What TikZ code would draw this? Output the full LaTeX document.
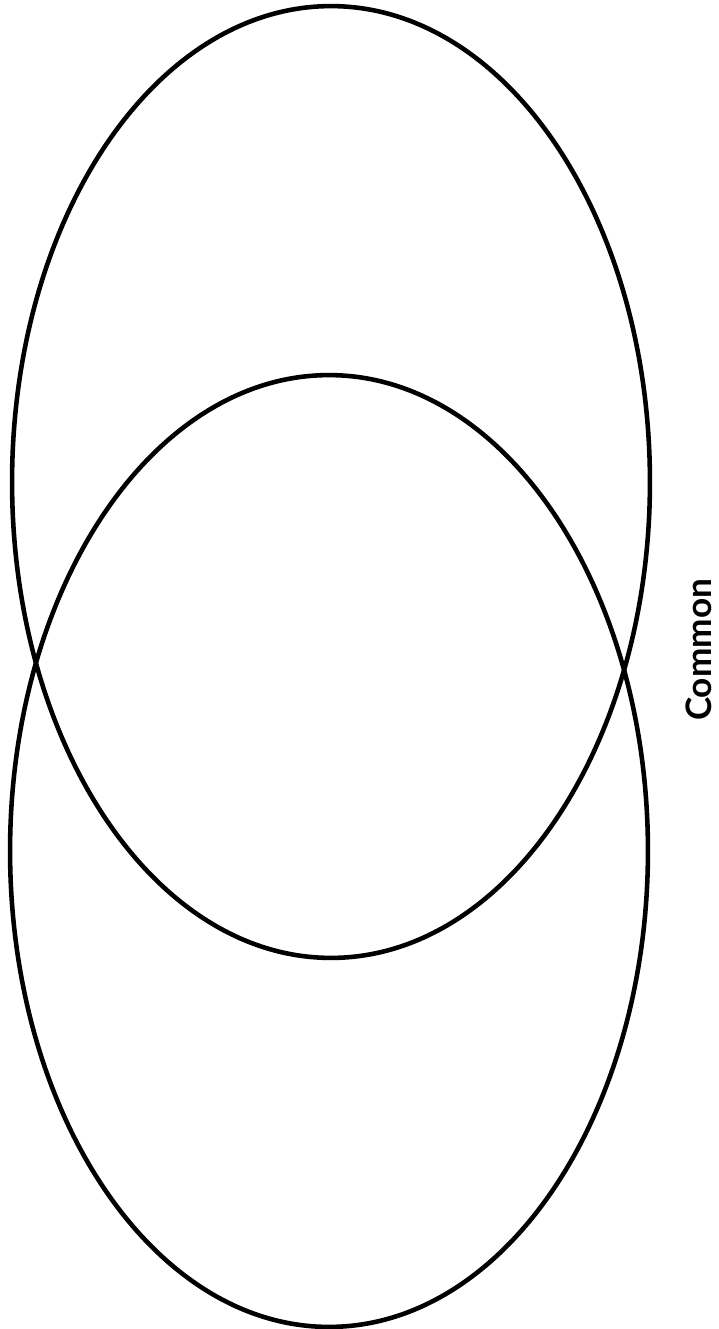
\documentclass[tikz,border=0pt]{standalone}
\usepackage{fontspec}
\setmainfont{Lato}
\usetikzlibrary{shapes.geometric}
\tikzset{
  vennset/.style={draw, ellipse, line width=2.6pt, inner sep=0pt,
                  minimum width=12.76cm, minimum height=19.04cm},
  sidelabel/.style={rotate=90, font=\fontsize{20}{24}\selectfont\bfseries, inner sep=0pt},
}
\begin{document}
\begin{tikzpicture}[x=0.02cm, y=-0.02cm]
\useasboundingbox (0,0) rectangle (718,1329);

% The two overlapping sets
\node[vennset] (upper) at (331,482) {};
\node[vennset] (lower) at (329,851) {};

% Label of the overlap
\node[sidelabel] (common) at (699,650) {Common};

\end{tikzpicture}
\end{document}
